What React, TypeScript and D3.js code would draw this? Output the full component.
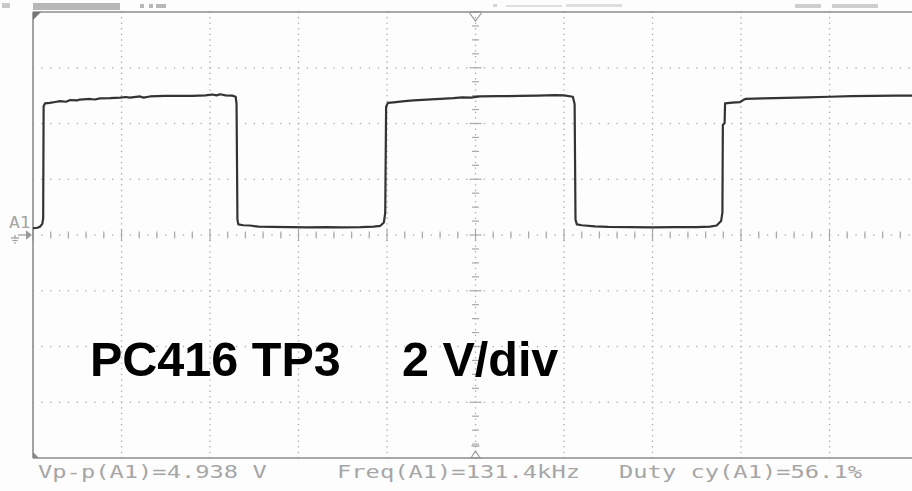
import * as d3 from "d3";

const width = 912;
const height = 491;

// screen frame: 10 horizontal divisions, 8 vertical divisions
const plotLeft = 33;
const plotRight = 918;
const plotTop = 12;
const plotBottom = 458;

const timePerDiv = 2; // µs
const voltsPerDiv = 2; // V

// trace: time in µs, level in V
const traceTime = [
	0.0, 0.1, 0.16, 0.21, 0.23, 0.24, 0.27, 0.38, 0.5, 0.61, 0.75, 0.84, 1.0, 1.06, 1.29, 1.4, 1.51,
	1.74, 1.97, 2.1, 2.19, 2.42, 2.5, 2.64, 2.98, 3.32, 3.6, 3.9, 4.05, 4.15, 4.23, 4.35, 4.5, 4.58,
	4.6, 4.62, 4.64, 4.75, 4.9, 5.1, 5.4, 5.8, 6.2, 6.6, 7.0, 7.4, 7.7, 7.85, 7.93, 7.96, 7.98, 8.02,
	8.15, 8.4, 8.6, 8.9, 9.2, 9.5, 9.7, 9.9, 10.1, 10.5, 11.0, 11.4, 11.8, 12.0, 12.2, 12.24, 12.26,
	12.29, 12.4, 12.7, 13.0, 13.5, 14.0, 14.5, 15.0, 15.3, 15.45, 15.55, 15.58, 15.59, 15.63, 15.64,
	15.8, 15.98, 16.05, 16.1, 16.5, 17.0, 17.5, 18.0, 18.5, 19.0, 19.5, 20.0,
];
const traceVolts = [
	0.25, 0.26, 0.3, 0.4, 0.6, 4.62, 4.72, 4.74, 4.77, 4.8, 4.78, 4.84, 4.83, 4.86, 4.88, 4.86, 4.9,
	4.91, 4.93, 4.95, 4.93, 4.97, 4.93, 4.97, 4.99, 4.99, 4.99, 5.01, 5.04, 5.01, 5.05, 5.01, 5.0, 4.96,
	4.7, 0.55, 0.38, 0.35, 0.34, 0.3, 0.29, 0.28, 0.27, 0.28, 0.27, 0.28, 0.3, 0.33, 0.45, 0.8, 4.6,
	4.74, 4.76, 4.8, 4.83, 4.86, 4.88, 4.91, 4.94, 4.93, 4.97, 4.98, 4.99, 5.0, 5.02, 5.01, 4.96, 4.7,
	0.55, 0.38, 0.35, 0.31, 0.29, 0.28, 0.27, 0.28, 0.28, 0.3, 0.34, 0.5, 0.8, 3.95, 4.02, 4.72,
	4.75, 4.77, 4.84, 4.88, 4.9, 4.92, 4.94, 4.96, 4.98, 4.99, 5.0, 5.0,
];

const channelLabel = "A1";
const titleProbe = "PC416 TP3";
const titleScale = "2 V/div";
const readouts = ["Vp-p(A1)=4.938 V", "Freq(A1)=131.4kHz", "Duty cy(A1)=56.1%"];
const readoutX = [38, 337, 619];

const xScale = d3
	.scaleLinear()
	.domain([0, 10 * timePerDiv])
	.range([plotLeft, plotRight]);

const yScale = d3
	.scaleLinear()
	.domain([-4 * voltsPerDiv, 4 * voltsPerDiv])
	.range([plotBottom, plotTop]);

const gridGray = "#a9a9a9";
const frameGray = "#8c8c8c";
const textGray = "#a6a6a6";

// scope readout font is wide: stretch a mono face horizontally
const readoutStretch = 1.32;

const App = () => {
	const trace = traceTime.map((t, i) => [t, traceVolts[i]] as [number, number]);
	const line = d3
		.line<[number, number]>()
		.x((d) => xScale(d[0]))
		.y((d) => yScale(d[1]));

	// gridlines, dotted every tenth of a division
	const vLines = d3.range(1, 10).filter((i) => i !== 5).map((i) => i * timePerDiv);
	const hLines = d3.range(-3, 4).filter((i) => i !== 0).map((i) => i * voltsPerDiv);
	const vDots = d3.range(-40, 41).map((i) => (i * voltsPerDiv) / 10);
	const hDots = d3.range(0, 101).map((i) => (i * timePerDiv) / 10);

	// centre axes with minor ticks
	const xCenter = xScale(5 * timePerDiv);
	const yCenter = yScale(0);
	const hTicks = d3.range(0, 51).map((i) => (i * timePerDiv) / 5);
	const vTicks = d3.range(-16, 17).map((i) => (i * voltsPerDiv) / 4);

	return (
		<svg
			width={width}
			height={height}
			viewBox={`0 0 ${width} ${height}`}
			style={{ position: "absolute", left: 0, top: 0 }}
		>
			<rect width={width} height={height} fill="#fdfdfd" />

			{/* clipped header remnants */}
			<g fill="#b8b8b8">
				<rect x={33} y={3} width={87} height={7} />
				<rect x={2} y={3} width={8} height={5} fill="#c8c8c8" />
				<rect x={140} y={4} width={4} height={4} />
				<rect x={149} y={4} width={4} height={4} />
				<rect x={156} y={4} width={10} height={4} />
				<rect x={493} y={4} width={4} height={3} fill="#d4d4d4" />
				<rect x={506} y={5} width={56} height={2} fill="#dedede" />
				<rect x={566} y={4} width={56} height={3} fill="#dedede" />
				<rect x={795} y={4} width={26} height={4} fill="#cfcfcf" />
				<rect x={832} y={4} width={46} height={4} fill="#cfcfcf" />
			</g>

			{/* dotted grid */}
			<g fill={gridGray}>
				{vLines.map((t) =>
					vDots.map((v) => (
						<rect key={`v${t}_${v}`} x={xScale(t) - 0.6} y={yScale(v) - 0.6} width={1.3} height={1.3} />
					))
				)}
				{hLines.map((v) =>
					hDots.map((t) => (
						<rect key={`h${v}_${t}`} x={xScale(t) - 0.6} y={yScale(v) - 0.6} width={1.3} height={1.3} />
					))
				)}
				{hDots.map((t) => (
					<rect key={`c${t}`} x={xScale(t) - 0.6} y={yCenter - 0.6} width={1.3} height={1.3} />
				))}
				{vDots.map((v) => (
					<rect key={`m${v}`} x={xCenter - 0.6} y={yScale(v) - 0.6} width={1.3} height={1.3} />
				))}
			</g>

			{/* centre axis ticks */}
			<g stroke={gridGray} strokeWidth={1.2}>
				{hTicks.map((t, i) => (
					<line
						key={`ht${i}`}
						x1={xScale(t)}
						x2={xScale(t)}
						y1={yCenter - (i % 5 === 0 ? 6 : 3.5)}
						y2={yCenter + (i % 5 === 0 ? 6 : 3.5)}
					/>
				))}
				{vTicks.map((v, i) => (
					<line
						key={`vt${i}`}
						x1={xCenter - (i % 4 === 0 ? 6 : 3.5)}
						x2={xCenter + (i % 4 === 0 ? 6 : 3.5)}
						y1={yScale(v)}
						y2={yScale(v)}
					/>
				))}
			</g>

			{/* screen frame */}
			<g stroke={frameGray} strokeWidth={1.6}>
				<line x1={plotLeft} x2={width} y1={plotTop} y2={plotTop} />
				<line x1={plotLeft} x2={width} y1={plotBottom} y2={plotBottom} />
				<line x1={plotLeft} x2={plotLeft} y1={plotTop} y2={plotBottom} />
			</g>
			<path d={`M${plotLeft},${plotTop} h8 l-8,8 Z`} fill="#777" />
			<path d={`M${plotLeft},${plotBottom} v-6 l6,6 Z`} fill="#888" />

			{/* trigger markers */}
			<g stroke="#999" strokeWidth={1.2} fill="none">
				<path d={`M${xCenter - 6},${plotTop + 1} L${xCenter},${plotTop + 9} L${xCenter + 6},${plotTop + 1}`} />
				<path d={`M${xCenter - 4},${plotBottom - 1} L${xCenter},${plotBottom - 7} L${xCenter + 4},${plotBottom - 1}`} />
				<line x1={xCenter - 4} x2={xCenter + 4} y1={plotBottom - 12} y2={plotBottom - 12} />
			</g>

			{/* channel marker */}
			<text
				transform={`translate(9,${yCenter - 7}) scale(1.2,1)`}
				fontFamily="DejaVu Sans Mono"
				fontSize={15}
				fill={textGray}
			>
				{channelLabel}
			</text>
			<g stroke="#9a9a9a" strokeWidth={1.2} fill="none">
				<line x1={18} x2={30} y1={yCenter} y2={yCenter} />
				<path d={`M26,${yCenter - 4} L31,${yCenter} L26,${yCenter + 4}`} fill="#9a9a9a" />
				<line x1={15} x2={15} y1={yCenter} y2={yCenter + 3} />
				<line x1={11} x2={19} y1={yCenter + 3} y2={yCenter + 3} />
				<line x1={12.5} x2={17.5} y1={yCenter + 5.5} y2={yCenter + 5.5} />
				<line x1={14} x2={16} y1={yCenter + 8} y2={yCenter + 8} />
			</g>

			{/* waveform */}
			<path d={line(trace) ?? ""} fill="none" stroke="#333" strokeWidth={2.2} strokeLinejoin="round" />

			{/* annotation */}
			<g fontFamily="Liberation Sans, Arial, sans-serif" fontWeight="bold" fontSize={48.5} fill="#000">
				<text x={90} y={376}>{titleProbe}</text>
				<text x={402} y={376}>{titleScale}</text>
			</g>

			{/* measurement readouts */}
			<g fontFamily="DejaVu Sans Mono" fontSize={18} fill={textGray}>
				{readouts.map((r, i) => (
					<text key={r} transform={`translate(${readoutX[i]},478) scale(${readoutStretch},1)`}>
						{r}
					</text>
				))}
			</g>
		</svg>
	);
};

export default App;
